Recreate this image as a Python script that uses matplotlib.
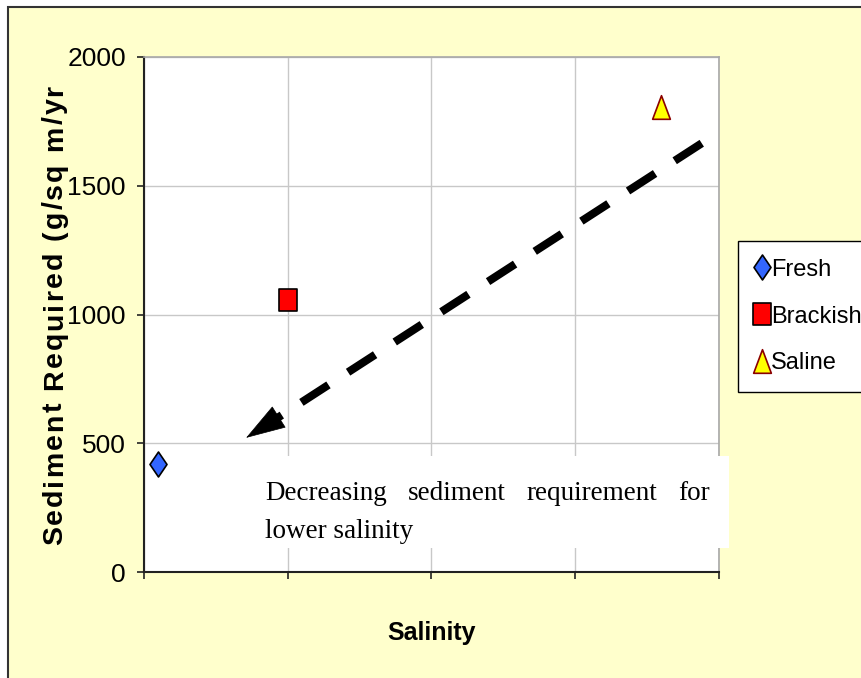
import matplotlib
matplotlib.use('Agg')
import matplotlib.pyplot as plt
from matplotlib.patches import Rectangle, FancyArrowPatch
from matplotlib.path import Path
from matplotlib import font_manager

# data
categories = ['Fresh', 'Brackish', 'Saline']
salinity = [0.1, 1.0, 3.6]
sediment = [420, 1058, 1805]
y_ticks = [0, 500, 1000, 1500, 2000]
x_ticks = [0, 1, 2, 3, 4]

# trend arrow (dashed shaft + solid head), data coords
arrow_start = (3.88, 1665)
arrow_base = (0.93, 599)
arrow_tip = (0.71, 521)

y_label = 'Sediment Required (g/sq m/yr'
note_line1 = ['Decreasing', 'sediment', 'requirement', 'for']
note_line2 = 'lower salinity'

W, H = 862, 678


def fx(px):
    return px / W


def fy(py):
    return 1 - py / H


def pick_font(names):
    for n in names:
        try:
            font_manager.findfont(n, fallback_to_default=False)
            return n
        except Exception:
            pass
    return 'DejaVu Sans'


sans = pick_font(['Liberation Sans', 'Arial'])
serif = pick_font(['Liberation Serif', 'DejaVu Serif'])

# marker shapes
rect_marker = Path([(-0.77, -1), (0.77, -1), (0.77, 1), (-0.77, 1), (-0.77, -1)],
                   [Path.MOVETO, Path.LINETO, Path.LINETO, Path.LINETO, Path.CLOSEPOLY])
tri_marker = Path([(0, 1), (-0.75, -1), (0.75, -1), (0, 1)],
                  [Path.MOVETO, Path.LINETO, Path.LINETO, Path.CLOSEPOLY])
diam_marker = Path([(0, 1), (-0.68, 0), (0, -1), (0.68, 0), (0, 1)],
                   [Path.MOVETO, Path.LINETO, Path.LINETO, Path.LINETO, Path.CLOSEPOLY])
markers = [diam_marker, rect_marker, tri_marker]
sizes = [18, 16, 17]
faces = ['#3366FF', '#FF0000', '#FFFF00']
edges = ['black', 'black', '#8B0000']

fig = plt.figure(figsize=(W / 100, H / 100), dpi=100)
fig.patch.set_facecolor('white')
bg = Rectangle((fx(8), -0.05), 1.1, fy(7) + 0.05, transform=fig.transFigure,
               facecolor='#FFFFCC', edgecolor='#333333', lw=1.5, zorder=-10)
fig.add_artist(bg)

ax = fig.add_axes([fx(144), fy(572), (719 - 144) / W, (572 - 57) / H])
ax.set_zorder(1)
ax.set_facecolor('white')

for name, x, y, m, s, fc, ec in zip(categories, salinity, sediment, markers, sizes, faces, edges):
    ax.plot([x], [y], linestyle='none', marker=m, markersize=s, markerfacecolor=fc,
            markeredgecolor=ec, markeredgewidth=1.2, label=name, zorder=5)

ax.set_xlim(x_ticks[0], x_ticks[-1])
ax.set_ylim(y_ticks[0], y_ticks[-1])
ax.set_xticks(x_ticks)
ax.set_xticklabels([])
ax.set_yticks(y_ticks)
ax.set_yticklabels([str(v) for v in y_ticks], fontsize=19, family=sans)
ax.tick_params(direction='out', length=5, width=1.2, color='#222222', pad=8)
ax.grid(True, color='#C8C8C8', lw=1)
ax.set_axisbelow(True)
for side in ['left', 'bottom']:
    ax.spines[side].set_color('#222222')
    ax.spines[side].set_linewidth(1.5)
for side in ['top', 'right']:
    ax.spines[side].set_color('#A8A8A8')
    ax.spines[side].set_linewidth(1.2)

# dashed trend arrow
ax.plot([arrow_start[0], arrow_base[0]], [arrow_start[1], arrow_base[1]], color='black',
        lw=5.8, linestyle=(0, (4, 2.9)), dash_capstyle='butt', zorder=4)
head = FancyArrowPatch(arrow_base, arrow_tip, arrowstyle='-|>,head_length=27,head_width=8.6',
                       mutation_scale=1, shrinkA=0, shrinkB=0, color='black', lw=0.5, zorder=4)
ax.add_patch(head)

renderer = fig.canvas.get_renderer()

# letter-spaced y label, drawn bottom to top
lab_bottom, lab_top, lab_x = 545, 85, 62
lab_size = 20.5
probe = fig.text(0, 0, y_label, rotation=90, fontsize=lab_size, fontweight='bold', family=sans)
full_len = probe.get_window_extent(renderer).height
probe.remove()
extra = (lab_bottom - lab_top - full_len) / (len(y_label) - 1)
for i, ch in enumerate(y_label):
    if i == 0:
        off = 0
    else:
        p = fig.text(0, 0, y_label[:i], rotation=90, fontsize=lab_size, fontweight='bold', family=sans)
        off = p.get_window_extent(renderer).height
        p.remove()
    fig.text(fx(lab_x), fy(lab_bottom - off - i * extra), ch, rotation=90, rotation_mode='anchor',
             ha='left', va='baseline', fontsize=lab_size, fontweight='bold', family=sans)

fig.text(fx(431.5), fy(633), 'Salinity', ha='center', va='center', fontsize=18,
         fontweight='bold', family=sans)

leg = ax.legend(loc='upper left', bbox_to_anchor=(fx(738), fy(241)), bbox_transform=fig.transFigure,
                borderaxespad=0, frameon=True, fancybox=False, framealpha=1, edgecolor='black',
                prop={'family': sans, 'size': 17}, handletextpad=0.15, handlelength=0.5,
                labelspacing=1.05, borderpad=0.75)
leg.get_frame().set_linewidth(1)

# note text box
box = Rectangle((fx(250), fy(548)), fx(729) - fx(250), fy(456) - fy(548), transform=fig.transFigure,
                facecolor='white', edgecolor='none', zorder=6, clip_on=False)
ax.add_patch(box)
clip = Rectangle((fx(250), fy(541)), fx(729) - fx(250), fy(456) - fy(541), transform=fig.transFigure,
                 facecolor='none', edgecolor='none')

words = []
for w in note_line1:
    t = ax.text(0, fy(500), w, fontsize=19.5, family=serif, va='baseline', ha='left', zorder=7,
                transform=fig.transFigure, clip_on=False)
    words.append(t)
widths = [t.get_window_extent(renderer).width for t in words]
left, right = 265, 710
gap = (right - left - sum(widths)) / (len(words) - 1)
pos = left
for t, wd in zip(words, widths):
    t.set_x(fx(pos))
    pos += wd + gap
t2 = ax.text(fx(left), fy(538), note_line2, fontsize=19.5, family=serif, va='baseline', ha='left',
             zorder=7, transform=fig.transFigure)
t2.set_clip_path(clip)

fig.savefig('out.png', dpi=100)
